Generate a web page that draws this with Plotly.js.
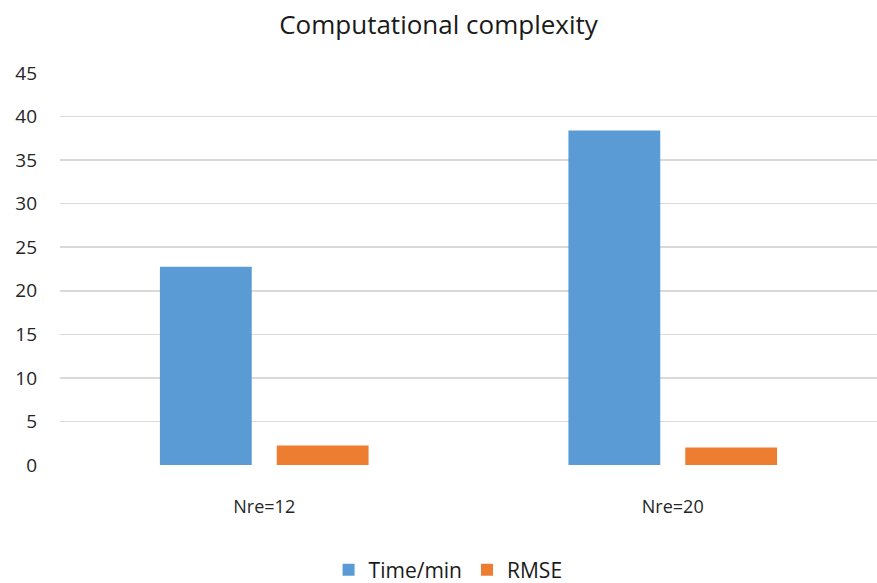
<!DOCTYPE html>
<html>
<head>
<meta charset="utf-8">
<script src="https://cdn.plot.ly/plotly-3.0.1.min.js"></script>
<style>html,body{margin:0;padding:0;background:#fff;}#chart{width:877px;height:583px;}</style>
</head>
<body>
<div id="chart"></div>
<script>
var categories = ["Nre=12", "Nre=20"];
var timeMin = [22.75, 38.4];
var rmse = [2.25, 2.0];
var seriesNames = ["Time/min", "RMSE"];
var yTicks = [0, 5, 10, 15, 20, 25, 30, 35, 40, 45];

var fontFam = "'Open Sans', sans-serif";
var data = [
  {type: "bar", name: seriesNames[0], x: categories, y: timeMin, marker: {color: "#5b9bd5"}},
  {type: "bar", name: seriesNames[1], x: categories, y: rmse, marker: {color: "#ed7d31"}}
];
var layout = {
  width: 877, height: 583,
  margin: {l: 60, r: 0, t: 73, b: 118, autoexpand: false},
  paper_bgcolor: "#fff", plot_bgcolor: "#fff",
  title: {text: "Computational complexity", x: 0.5, xanchor: "center", y: 0.958, yanchor: "middle",
          font: {family: fontFam, size: 26, color: "#1a1a1a"}},
  barmode: "group", bargap: 0.428, bargroupgap: 0.214,
  font: {family: fontFam, size: 18, color: "#262626"},
  xaxis: {showgrid: false, showline: false, ticks: "", tickfont: {size: 18}, ticklabelstandoff: 29},
  yaxis: {range: [0, 45], tickvals: yTicks, showgrid: true, gridcolor: "#d9d9d9", gridwidth: 1.5,
          zeroline: false, showline: false, ticks: "", tickfont: {size: 19}, ticklabelstandoff: 22},
  legend: {orientation: "h", x: 0.475, xanchor: "center", y: -0.268, yanchor: "middle",
           font: {size: 21, color: "#1a1a1a"}},
  showlegend: true
};
Plotly.newPlot("chart", data, layout, {displayModeBar: false, staticPlot: true});
</script>
</body>
</html>
